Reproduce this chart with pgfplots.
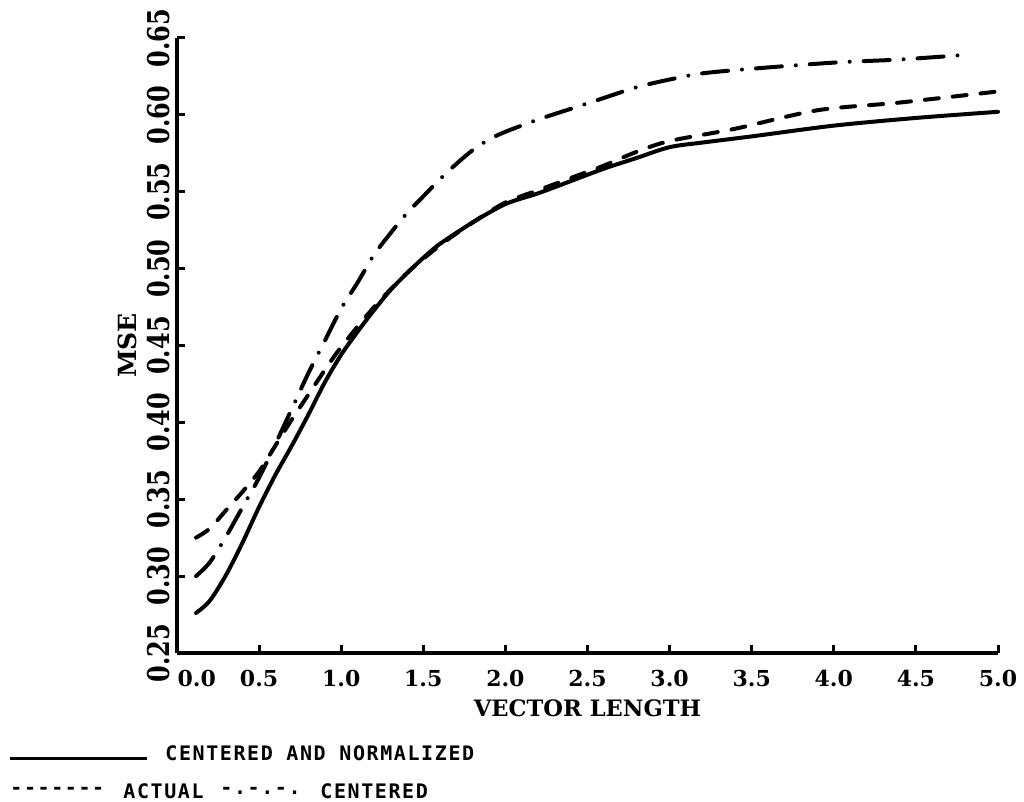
\documentclass[border=0pt]{standalone}
\usepackage{fontspec}
\usepackage{graphicx}
\usepackage{pgfplots}
\pgfplotsset{compat=1.18}
\newfontfamily\plotserif{DejaVu Serif}
\newfontfamily\plotmono{DejaVu Sans Mono}[LetterSpace=8]
\newcommand{\yl}[1]{\scalebox{1}[1.25]{#1}}

\begin{document}
\begin{tikzpicture}
\begin{axis}[
  scale only axis,
  width=410.5pt, height=307.5pt,
  xmin=0, xmax=5, ymin=0.25, ymax=0.65,
  axis lines=left,
  axis line style={-, line width=2pt},
  every outer x axis line/.append style={-},
  every outer y axis line/.append style={-},
  tick align=inside,
  major tick length=4pt,
  tick style={line width=1.5pt, black},
  xtick={0.5,1.0,1.5,2.0,2.5,3.0,3.5,4.0,4.5,5.0},
  xticklabels={0.5,1.0,1.5,2.0,2.5,3.0,3.5,4.0,4.5,5.0},
  extra x ticks={0.12},
  extra x tick labels={0.0},
  extra x tick style={major tick length=0pt},
  ytick={0.25,0.30,0.35,0.40,0.45,0.50,0.55,0.60,0.65},
  yticklabels={\yl{0.25},\yl{0.30},\yl{0.35},\yl{0.40},\yl{0.45},\yl{0.50},\yl{0.55},\yl{0.60},\yl{0.65}},
  xticklabel style={font=\plotserif\bfseries\fontsize{11}{12}\selectfont, anchor=north, inner sep=0pt, yshift=-8.5pt},
  yticklabel style={font=\plotserif\bfseries\fontsize{12}{14}\selectfont, rotate=90, anchor=south, inner sep=0pt, yshift=3.5pt},
  xlabel={VECTOR LENGTH},
  ylabel={MSE},
  x label style={at={(axis description cs:0.5,0)}, anchor=center, yshift=-27.5pt, font=\plotserif\bfseries\fontsize{11.3}{13}\selectfont},
  y label style={at={(axis description cs:-0.0609,0.5)}, anchor=center, font=\plotserif\bfseries\fontsize{12.5}{14}\selectfont},
  clip=false,
]
% centered and normalized
\addplot[black, line width=2pt, line cap=round, line join=round, smooth] coordinates {
  (0.116,0.276) (0.2,0.284) (0.3,0.301) (0.4,0.322) (0.5,0.345) (0.6,0.366)
  (0.7,0.385) (0.8,0.405) (0.9,0.426) (1.0,0.444) (1.1,0.459) (1.2,0.473)
  (1.3,0.486) (1.4,0.497) (1.5,0.507) (1.6,0.516) (1.8,0.530) (2.0,0.542)
  (2.2,0.549) (2.4,0.557) (2.6,0.565) (2.8,0.572) (3.0,0.579) (3.2,0.582)
  (3.5,0.586) (4.0,0.593) (4.5,0.598) (5.0,0.602)
};
% actual
\addplot[black, line width=2pt, line cap=round, line join=round, smooth,
  dash pattern=on 7pt off 7pt] coordinates {
  (0.116,0.325) (0.2,0.331) (0.3,0.343) (0.4,0.355) (0.5,0.368) (0.6,0.385)
  (0.7,0.402) (0.8,0.418) (0.9,0.434) (1.0,0.449) (1.2,0.475) (1.4,0.497)
  (1.6,0.515) (1.8,0.530) (2.0,0.543) (2.2,0.551) (2.4,0.559) (2.6,0.567)
  (2.8,0.576) (3.0,0.583) (3.4,0.591) (3.9,0.603) (4.4,0.608) (4.98,0.615)
};
% centered
\addplot[black, line width=2pt, line cap=round, line join=round, smooth,
  dash pattern=on 13pt off 7pt on 0pt off 7pt] coordinates {
  (0.116,0.300) (0.2,0.309) (0.3,0.326) (0.4,0.345) (0.5,0.364) (0.6,0.386)
  (0.7,0.409) (0.8,0.432) (0.9,0.453) (1.0,0.474) (1.1,0.491) (1.2,0.509)
  (1.3,0.523) (1.4,0.536) (1.5,0.547) (1.6,0.558) (1.7,0.568) (1.8,0.577)
  (1.9,0.584) (2.0,0.589) (2.2,0.597) (2.4,0.604) (2.6,0.611) (2.8,0.618)
  (3.0,0.623) (3.2,0.627) (3.5,0.630) (4.0,0.634) (4.4,0.636) (4.8,0.639)
};
\end{axis}
% key below the plot
\begin{scope}[every node/.style={anchor=west, inner sep=0pt, font=\plotmono\bfseries\fontsize{10}{11}\selectfont}]
  \draw[line width=1.5pt] (-83.5pt,-53pt) -- (-15pt,-53pt);
  \node at (-6pt,-50pt) {CENTERED};
  \node at (54.5pt,-50pt) {AND};
  \node at (81pt,-50pt) {NORMALIZED};
  \node at (-83.5pt,-69pt) {-------};
  \node at (-27pt,-69pt) {ACTUAL};
  \node at (21.5pt,-69pt) {-.-.-.};
  \node at (71.5pt,-69pt) {CENTERED};
\end{scope}
\pgfresetboundingbox
\path[use as bounding box] (-88.5pt,-74.5pt) rectangle (423.5pt,326.5pt);
\end{tikzpicture}
\end{document}
